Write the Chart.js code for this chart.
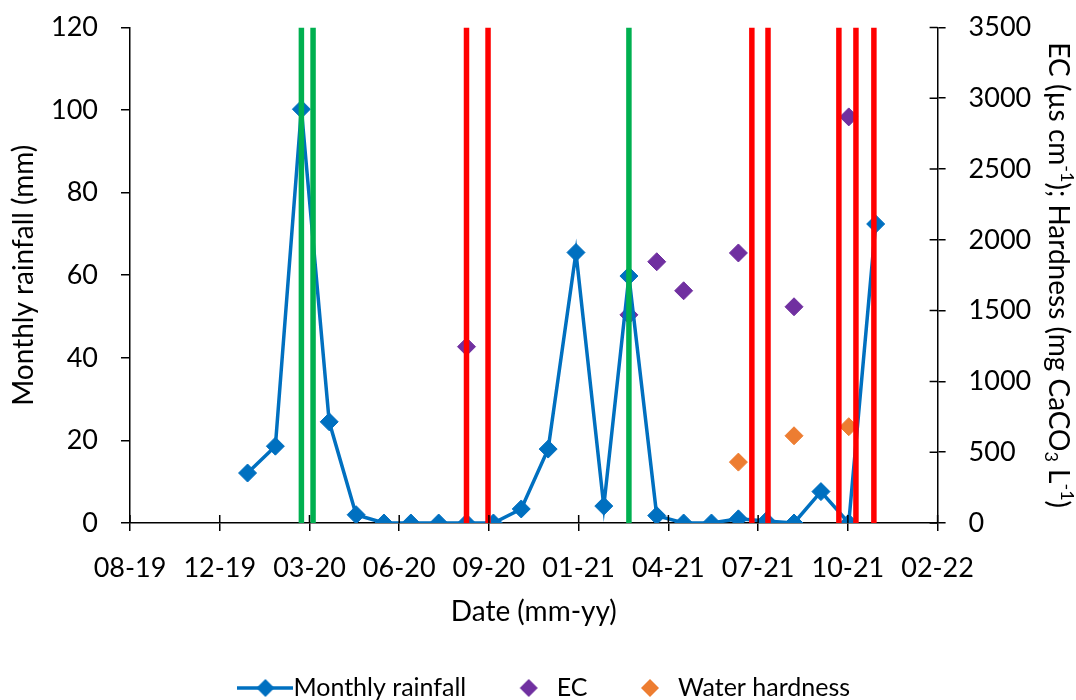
<!DOCTYPE html>
<html><head><meta charset="utf-8">
<script src="https://cdn.jsdelivr.net/npm/chart.js@4.4.1/dist/chart.umd.min.js"></script>
<style>html,body{margin:0;padding:0;background:#fff;}#wrap{width:1076px;height:700px;}</style>
</head><body><div id="wrap"><canvas id="c" width="1076" height="700"></canvas></div>
<script>
// ---- data ----
const rainMonths = ['2020-01-01','2020-02-01','2020-03-01','2020-04-01','2020-05-01','2020-06-01','2020-07-01','2020-08-01','2020-09-01','2020-10-01','2020-11-01','2020-12-01','2021-01-01','2021-02-01','2021-03-01','2021-04-01','2021-05-01','2021-06-01','2021-07-01','2021-08-01','2021-09-01','2021-10-01','2021-11-01','2021-12-01'];
const rainfall = [12.1,18.6,100.2,24.5,2.0,0,0,0,0,0,3.4,17.9,65.5,4.1,59.8,1.8,0,0,1.0,0.5,0,7.6,0,72.4];
const ecDates = ['2020-09-01','2021-03-01','2021-04-01','2021-05-01','2021-07-01','2021-09-01','2021-11-01'];
const ecValues = [1245,1470,1845,1640,1907,1527,2868];
const hardDates = ['2021-07-01','2021-09-01','2021-11-01'];
const hardValues = [430,616,680];
const greenEvents = ['2020-03-01','2020-03-14','2021-03-01'];
const redEvents = ['2020-09-01','2020-09-25','2021-07-16','2021-08-03','2021-10-21','2021-11-09','2021-11-29'];
const xTickLabels = ['08-19','12-19','03-20','06-20','09-20','01-21','04-21','07-21','10-21','02-22'];
const xMinDate = '2019-08-23', xMaxDate = '2022-02-08', xStepDays = 100;

// ---- helpers ----
const serial = s => { const [y,m,d] = s.split('-').map(Number); return Math.round((Date.UTC(y,m-1,d)-Date.UTC(1899,11,30))/864e5); };
const pts = (ds, vs) => ds.map((d,i)=>({x:serial(d), y:vs[i]}));
const FONT = 'Lato';
const LEG_FS = 25, LEG_PAD = 47;
const BLUE='#0070C0', PURPLE='#7030A0', ORANGE='#ED7D31', GREEN='#00B050', RED='#FF0000';

function vline(d, color){
  return {label:'_event', data:[{x:serial(d),y:0},{x:serial(d),y:120}], yAxisID:'y', borderColor:color,
    borderWidth:5.5, pointRadius:0, pointHoverRadius:0, showLine:true, order:-1, borderCapStyle:'butt'};
}
function legendIcon(color, withLine){
  const c=document.createElement('canvas'); c.width=56; c.height=20;
  const g=c.getContext('2d');
  if(withLine){ g.strokeStyle=color; g.lineWidth=3.5; g.beginPath(); g.moveTo(0,10); g.lineTo(56,10); g.stroke(); }
  g.fillStyle=color; g.beginPath(); g.moveTo(28,1); g.lineTo(37,10); g.lineTo(28,19); g.lineTo(19,10); g.closePath(); g.fill();
  return c;
}
const icons=[legendIcon(BLUE,true),legendIcon(PURPLE,false),legendIcon(ORANGE,false)];

const datasets=[
  {label:'Monthly rainfall', data:pts(rainMonths,rainfall), yAxisID:'y', borderColor:BLUE, backgroundColor:BLUE,
   borderWidth:3.5, pointStyle:'rectRot', pointRadius:9, pointHoverRadius:9, pointBackgroundColor:BLUE, pointBorderColor:BLUE, pointBorderWidth:1, showLine:true, tension:0, order:0},
  {label:'EC', data:pts(ecDates,ecValues), yAxisID:'y2', showLine:false, pointStyle:'rectRot', pointRadius:9, pointHoverRadius:9,
   backgroundColor:PURPLE, borderColor:PURPLE, pointBackgroundColor:PURPLE, pointBorderColor:PURPLE, pointBorderWidth:1, order:1},
  {label:'Water hardness', data:pts(hardDates,hardValues), yAxisID:'y2', showLine:false, pointStyle:'rectRot', pointRadius:9, pointHoverRadius:9,
   backgroundColor:ORANGE, borderColor:ORANGE, pointBackgroundColor:ORANGE, pointBorderColor:ORANGE, pointBorderWidth:1, order:2},
  ...greenEvents.map(d=>vline(d,GREEN)),
  ...redEvents.map(d=>vline(d,RED))
];

const PLOT_BOTTOM=523, PLOT_RIGHT=937.6;

const crossTicks={id:'crossTicks', afterDatasetsDraw(chart){
  const {ctx, chartArea:a, scales:{x,y2}}=chart;
  ctx.save(); ctx.strokeStyle='#000'; ctx.lineWidth=1.5; ctx.beginPath();
  x.ticks.forEach(t=>{const p=x.getPixelForValue(t.value); ctx.moveTo(p,a.bottom); ctx.lineTo(p,a.bottom-8);});
  y2.ticks.forEach(t=>{const p=y2.getPixelForValue(t.value); ctx.moveTo(a.right,p); ctx.lineTo(a.right-8,p);});
  ctx.stroke(); ctx.restore();
}};

const rightTitle={id:'rightTitle', afterDraw(chart){
  const {ctx, chartArea:a}=chart;
  const big=28, small=18;
  const segs=[['EC (µs cm',0],['-1',1],['); Hardness (mg CaCO',0],['3',2],[' L',0],['-1',1],[')',0]];
  ctx.save();
  const w=segs.map(([t,k])=>{ctx.font=(k?small:big)+'px '+FONT; return ctx.measureText(t).width;});
  const total=w.reduce((s,v)=>s+v,0);
  ctx.translate(1058,(a.top+a.bottom)/2); ctx.rotate(Math.PI/2);
  ctx.fillStyle='#000'; ctx.textBaseline='middle'; ctx.textAlign='left';
  let cx=-total/2;
  segs.forEach(([t,k],i)=>{ctx.font=(k?small:big)+'px '+FONT; const dy=k===1?-9:(k===2?7:0); ctx.fillText(t,cx,dy); cx+=w[i];});
  ctx.restore();
}};

const legendShift={id:'legendShift', afterLayout(chart){
  const lg=chart.legend; if(!lg) return;
  const dy=(688-LEG_PAD-LEG_FS/2)-lg.top; lg.top+=dy; lg.bottom+=dy;
  lg.left+=12; lg.right+=12;
}};
const noVPad = s => { s.paddingTop=0; s.paddingBottom=0; };

new Chart(document.getElementById('c'),{
  type:'scatter',
  data:{datasets},
  plugins:[crossTicks,rightTitle,legendShift],
  options:{
    responsive:false, animation:false, devicePixelRatio:1,
    layout:{padding:{top:27.4,left:0,right:0,bottom:0}},
    plugins:{
      tooltip:{enabled:false},
      legend:{position:'bottom', align:'center',
        labels:{usePointStyle:true, pointStyleWidth:31, padding:LEG_PAD, color:'#000', font:{family:FONT,size:LEG_FS},
          filter:(it)=>it.text!=='_event',
          generateLabels:(chart)=>{
            const items=Chart.defaults.plugins.legend.labels.generateLabels(chart);
            items.forEach(it=>{ if(it.datasetIndex<3) it.pointStyle=icons[it.datasetIndex]; });
            return items;
          }}}
    },
    scales:{
      x:{type:'linear', position:'bottom', min:serial(xMinDate), max:serial(xMaxDate),
        afterFit:s=>{ s.height=700-PLOT_BOTTOM-(s.chart.legend?s.chart.legend.height:0); },
        ticks:{stepSize:xStepDays, autoSkip:false, maxRotation:0, color:'#000', padding:21, font:{family:FONT,size:27},
          callback:(v,i)=>xTickLabels[i]},
        grid:{drawOnChartArea:false, drawTicks:true, tickLength:8, color:'#000', lineWidth:1.5},
        border:{display:true,color:'#000',width:1.5},
        title:{display:true, text:'Date (mm-yy)', color:'#000', font:{family:FONT,size:28}, padding:{top:0,bottom:-11}}},
      y:{position:'left', min:0, max:120,
        afterFit:s=>{ s.width=130; noVPad(s); },
        ticks:{stepSize:20, color:'#000', padding:23, font:{family:FONT,size:27}},
        grid:{drawOnChartArea:false, drawTicks:true, tickLength:9, color:'#000', lineWidth:1.5},
        border:{display:true,color:'#000',width:1.5},
        title:{display:true, text:'Monthly rainfall (mm)', color:'#000', font:{family:FONT,size:28}, padding:{top:7,bottom:0}}},
      y2:{position:'right', min:0, max:3500,
        afterFit:s=>{ s.width=1076-PLOT_RIGHT; noVPad(s); },
        ticks:{stepSize:500, color:'#000', padding:23, font:{family:FONT,size:27}, callback:v=>String(v)},
        grid:{drawOnChartArea:false, drawTicks:true, tickLength:8, color:'#000', lineWidth:1.5},
        border:{display:true,color:'#000',width:1.5},
        title:{display:false}}
    }
  }
});
</script></body></html>
